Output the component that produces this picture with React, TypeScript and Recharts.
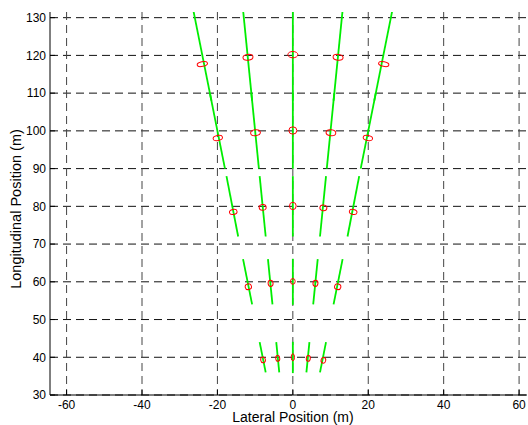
import React from 'react';
import { ScatterChart, Scatter, XAxis, YAxis, CartesianGrid } from 'recharts';

const X_TICKS = [-60, -40, -20, 0, 20, 40, 60];
const Y_TICKS = [30, 40, 50, 60, 70, 80, 90, 100, 110, 120, 130];

// red: estimated positions [lateral, longitudinal] in m, one list per range ring
const est40 = [[-7.9, 39.3], [-4.0, 39.7], [0, 40.0], [4.1, 39.7], [8.1, 39.2]];
const est60 = [[-11.8, 58.7], [-5.9, 59.6], [0, 60.1], [6.0, 59.6], [11.9, 58.7]];
const est80 = [[-15.8, 78.5], [-8.0, 79.7], [0, 80.1], [8.1, 79.6], [16.0, 78.5]];
const est100 = [[-19.9, 98.1], [-9.9, 99.5], [0, 100.1], [10.1, 99.5], [19.9, 98.1]];
const est120 = [[-24.0, 117.7], [-11.9, 119.5], [0, 120.2], [12.0, 119.5], [24.1, 117.7]];

// red ellipse semi-axes [cross-range, along-range] in m
const axes40 = [[0.62, 0.76], [0.53, 0.76], [0.44, 0.93], [0.53, 0.76], [0.62, 0.76]];
const axes60 = [[0.84, 0.76], [0.66, 0.84], [0.62, 0.76], [0.66, 0.84], [0.84, 0.76]];
const axes80 = [[1.02, 0.66], [0.93, 0.76], [0.89, 0.97], [0.93, 0.76], [1.02, 0.66]];
const axes100 = [[1.26, 0.66], [1.29, 0.77], [1.06, 0.97], [1.29, 0.77], [1.26, 0.66]];
const axes120 = [[1.39, 0.61], [1.33, 0.76], [1.33, 0.84], [1.33, 0.76], [1.39, 0.61]];

// green: long range-error ellipses, [x top, y top, x bottom, y bottom] in m
const ell40 = [[-8.8, 44.0, -7.2, 36.0], [-4.4, 44.0, -3.6, 36.0], [0, 44.1, 0, 35.8], [4.4, 44.0, 3.6, 36.0], [8.8, 44.0, 7.2, 36.0]];
const ell60 = [[-13.2, 66.0, -10.8, 54.0], [-6.6, 66.0, -5.4, 54.0], [0, 66.1, 0, 53.9], [6.6, 66.0, 5.4, 54.0], [13.2, 66.0, 10.8, 54.0]];
const ell80 = [[-17.6, 88.0, -14.5, 72.0], [-8.8, 88.0, -7.2, 72.0], [0, 88.0, 0, 72.0], [8.8, 88.0, 7.2, 72.0], [17.6, 88.0, 14.5, 72.0]];
const ell100 = [[-22.0, 110.0, -18.0, 90.0], [-11.0, 110.0, -9.0, 90.0], [0, 110.0, 0, 90.0], [11.0, 110.0, 9.0, 90.0], [22.0, 110.0, 18.0, 90.0]];
const ell120 = [[-26.4, 132.0, -21.6, 108.0], [-13.2, 132.0, -10.8, 108.0], [0, 132.0, 0, 108.0], [13.2, 132.0, 10.8, 108.0], [26.4, 132.0, 21.6, 108.0]];

const W = 528;
const H = 425;
const MARGIN = { top: 12, right: 1, bottom: 0, left: 0 };
const Y_AXIS_W = 50;
const X_AXIS_H = 30;
const X_DOMAIN: [number, number] = [-64.4, 62.1];
const Y_DOMAIN: [number, number] = [30, 131.5];
const PX_PER_M = (W - MARGIN.left - MARGIN.right - Y_AXIS_W) / (X_DOMAIN[1] - X_DOMAIN[0]);

const FONT = 'Liberation Sans, Arial, Helvetica, sans-serif';

const estPoints = [
  ...est40.map((p, i) => ({ x: p[0], y: p[1], a: axes40[i][0], b: axes40[i][1] })),
  ...est60.map((p, i) => ({ x: p[0], y: p[1], a: axes60[i][0], b: axes60[i][1] })),
  ...est80.map((p, i) => ({ x: p[0], y: p[1], a: axes80[i][0], b: axes80[i][1] })),
  ...est100.map((p, i) => ({ x: p[0], y: p[1], a: axes100[i][0], b: axes100[i][1] })),
  ...est120.map((p, i) => ({ x: p[0], y: p[1], a: axes120[i][0], b: axes120[i][1] })),
];

const segments = [...ell40, ...ell60, ...ell80, ...ell100, ...ell120].map((s) => [
  { x: s[0], y: s[1] },
  { x: s[2], y: s[3] },
]);

const RedEllipse = (props: any) => {
  const { cx, cy, payload } = props;
  if (cx == null || cy == null) return <g />;
  const deg = (Math.atan2(payload.x, payload.y) * 180) / Math.PI;
  return (
    <ellipse
      cx={cx}
      cy={cy}
      rx={payload.a * PX_PER_M}
      ry={payload.b * PX_PER_M}
      transform={`rotate(${deg} ${cx} ${cy})`}
      fill="none"
      stroke="#ff0000"
      strokeWidth={1}
    />
  );
};

const NoMarker = () => <g />;

const tickStyle = { fontSize: 12, fill: '#000', fontFamily: FONT };

export default function App() {
  return (
    <div style={{ position: 'absolute', left: 0, top: 0, width: W, height: H, background: '#fff' }}>
      <ScatterChart width={W} height={H} margin={MARGIN} style={{ fontFamily: FONT }}>
        <CartesianGrid
          horizontal={true}
          vertical={false}
          horizontalValues={Y_TICKS}
          stroke="#111"
          strokeDasharray="8 5"
        />
        <CartesianGrid
          horizontal={false}
          vertical={true}
          verticalValues={X_TICKS}
          stroke="#444"
          strokeDasharray="8 5"
        />
        <XAxis
          type="number"
          dataKey="x"
          domain={X_DOMAIN}
          ticks={X_TICKS}
          allowDataOverflow
          height={X_AXIS_H}
          tickSize={-5}
          tickMargin={10}
          tick={tickStyle}
          axisLine={{ stroke: '#000' }}
          tickLine={{ stroke: '#000' }}
          label={{
            content: () => (
              <text x={293} y={421.5} textAnchor="middle" fontSize={14} fontFamily={FONT} fill="#000">
                Lateral Position (m)
              </text>
            ),
          }}
        />
        <YAxis
          type="number"
          dataKey="y"
          domain={Y_DOMAIN}
          ticks={Y_TICKS}
          allowDataOverflow
          width={Y_AXIS_W}
          tickSize={-5}
          tickMargin={9}
          tick={tickStyle}
          axisLine={{ stroke: '#000' }}
          tickLine={{ stroke: '#000' }}
          label={{
            content: () => (
              <text
                x={21}
                y={209}
                transform="rotate(-90 21 209)"
                textAnchor="middle"
                fontSize={14.5}
                fontFamily={FONT}
                fill="#000"
              >
                Longitudinal Position (m)
              </text>
            ),
          }}
        />
        <YAxis
          yAxisId="right"
          orientation="right"
          type="number"
          domain={Y_DOMAIN}
          width={0}
          tick={false}
          tickLine={false}
          axisLine={{ stroke: '#000' }}
        />
        {segments.map((seg, i) => (
          <Scatter
            key={`ell-${i}`}
            data={seg}
            line={{ stroke: '#00ee00', strokeWidth: 1.8 }}
            shape={NoMarker}
            isAnimationActive={false}
            legendType="none"
          />
        ))}
        <Scatter data={estPoints} shape={RedEllipse} isAnimationActive={false} legendType="none" />
      </ScatterChart>
    </div>
  );
}
